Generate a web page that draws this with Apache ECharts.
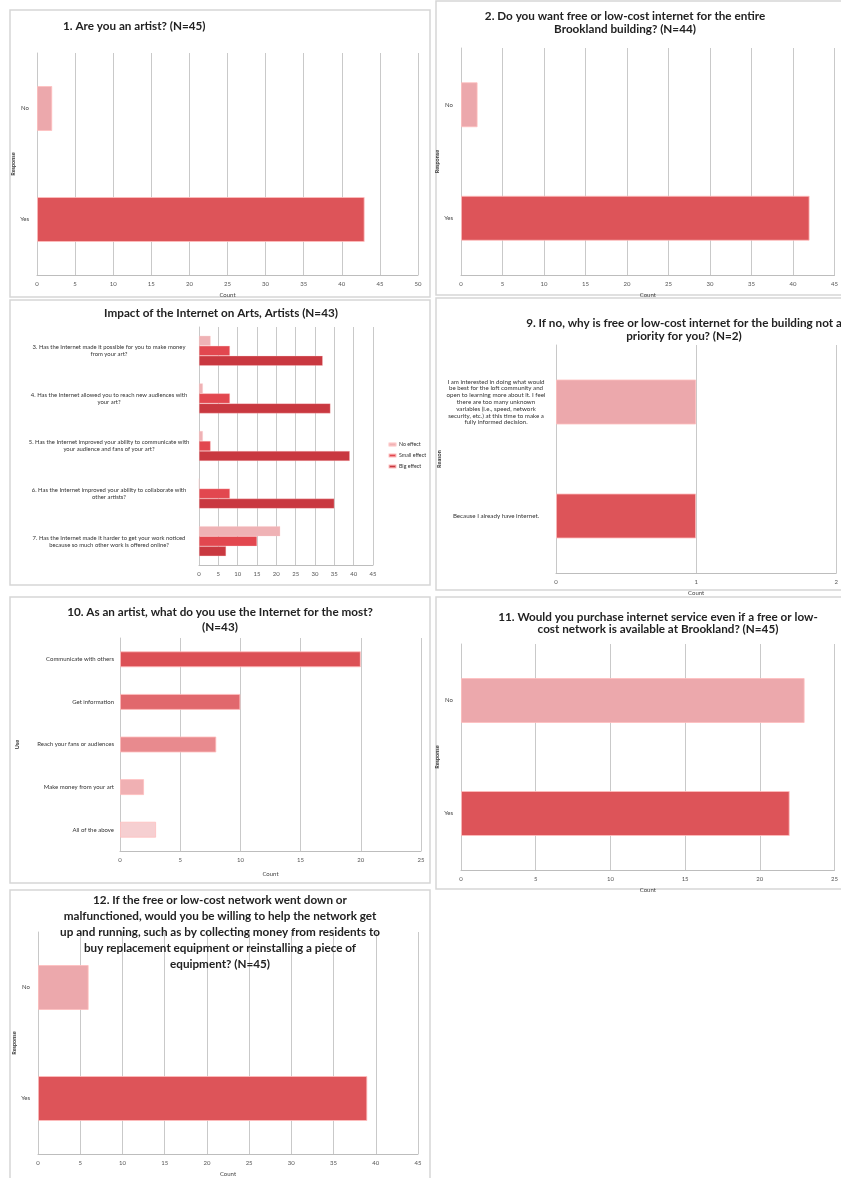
<!DOCTYPE html>
<html><head><meta charset="utf-8">
<script src="https://cdn.jsdelivr.net/npm/echarts@6/dist/echarts.min.js"></script>
<style>html,body{margin:0;padding:0;background:#fff}#c{width:841px;height:1178px}</style>
</head><body><div id="c"></div>
<script>
// ---- data ----
const q1Cats = ['No', 'Yes'];
const q1Vals = [2, 43];
const q2Cats = ['No', 'Yes'];
const q2Vals = [2, 42];
const q3Cats = [
  '3. Has the Internet made it possible for you to make money\nfrom your art?',
  '4. Has the Internet allowed you to reach new audiences with\nyour art?',
  '5. Has the Internet improved your ability to communicate with\nyour audience and fans of your art?',
  '6. Has the Internet improved your ability to collaborate with\nother artists?',
  '7. Has the Internet made it harder to get your work noticed\nbecause so much other work is offered online?'
];
const q3Series = ['No effect', 'Small effect', 'Big effect'];
const q3NoEffect = [3, 1, 1, 0, 21];
const q3Small = [8, 8, 3, 8, 15];
const q3Big = [32, 34, 39, 35, 7];
const q9Cats = [
  'I am interested in doing what would\nbe best for the loft community and\nopen to learning more about it. I feel\nthere are too many unknown\nvariables (i.e., speed, network\nsecurity, etc.) at this time to make a\nfully informed decision.',
  'Because I already have internet.'
];
const q9Vals = [1, 1];
const q10Cats = ['Communicate with others', 'Get information', 'Reach your fans or audiences', 'Make money from your art', 'All of the above'];
const q10Vals = [20, 10, 8, 2, 3];
const q11Cats = ['No', 'Yes'];
const q11Vals = [23, 22];
const q12Cats = ['No', 'Yes'];
const q12Vals = [6, 39];
const titles = [
  '1. Are you an artist? (N=45)',
  '2. Do you want free or low-cost internet for the entire\nBrookland building? (N=44)',
  'Impact of the Internet on Arts, Artists (N=43)',
  '9. If no, why is free or low-cost internet for the building not a\npriority for you? (N=2)',
  '10. As an artist, what do you use the Internet for the most?\n(N=43)',
  '11. Would you purchase internet service even if a free or low-\ncost network is available at Brookland? (N=45)',
  '12. If the free or low-cost network went down or\nmalfunctioned, would you be willing to help the network get\nup and running, such as by collecting money from residents to\nbuy replacement equipment or reinstalling a piece of\nequipment? (N=45)'
];

// ---- style ----
const FONT = 'Lato';
const DARK = '#dd5459', LIGHT = '#eca8ac';
const q3Colors = ['#efb2b5', '#e2474f', '#c93840'];
const q10Colors = ['#dc5055', '#e1686d', '#e88a8e', '#f0b0b3', '#f6cfd1'];

const grids = [], xAxes = [], yAxes = [], series = [];
function addPanel(g, x, y) {
  const i = grids.length;
  grids.push({left: g.l, top: g.t, width: g.r - g.l, height: g.b - g.t, containLabel: false});
  xAxes.push({
    gridIndex: i, type: 'value', min: 0, max: x.max, interval: x.int,
    axisLine: {show: true, lineStyle: {color: '#bdbdbd'}}, axisTick: {show: false},
    splitLine: {show: true, lineStyle: {color: '#c9c9c9', width: 1}},
    axisLabel: {fontSize: 6, color: '#555', fontFamily: FONT, margin: 6},
    name: x.name || '', nameLocation: 'middle', nameGap: x.gap || 17,
    nameTextStyle: {fontSize: 6, color: '#444', fontFamily: FONT}
  });
  yAxes.push({
    gridIndex: i, type: 'category', data: y.data, inverse: true,
    axisLine: {show: true, lineStyle: {color: '#c8c8c8'}}, axisTick: {show: false},
    axisLabel: Object.assign({fontSize: 6, color: '#444', fontFamily: FONT, margin: 8}, y.label || {}),
    name: y.name || '', nameLocation: 'middle', nameGap: y.gap || 20, nameRotate: 90,
    nameTextStyle: {fontSize: 5.5, color: '#333', fontFamily: FONT, fontWeight: 'bold'}
  });
  return i;
}
function twoColor(vals) {
  return vals.map((v, k) => ({value: v, itemStyle: {color: k === 0 ? LIGHT : DARK}}));
}
const barStyle = {borderColor: 'rgba(255,190,190,0.8)', borderWidth: 1};

// Panel 1
let i = addPanel({l: 37, r: 418, t: 53, b: 275}, {max: 50, int: 5, name: 'Count', gap: 17}, {data: q1Cats, name: 'Response', gap: 20});
series.push({type: 'bar', xAxisIndex: i, yAxisIndex: i, data: twoColor(q1Vals), barWidth: 45, itemStyle: barStyle});
// Panel 2
i = addPanel({l: 461, r: 839, t: 48, b: 275}, {max: 45, int: 5, name: 'Count', gap: 17}, {data: q2Cats, name: 'Response', gap: 19});
series.push({type: 'bar', xAxisIndex: i, yAxisIndex: i, data: twoColor(q2Vals), barWidth: 45, itemStyle: barStyle});
// Panel 3
i = addPanel({l: 199, r: 373, t: 327, b: 565}, {max: 45, int: 5}, {data: q3Cats, label: {fontSize: 5.9, align: 'center', margin: 90, lineHeight: 7, color: '#333'}});
[q3NoEffect, q3Small, q3Big].forEach((d, k) => {
  series.push({type: 'bar', name: q3Series[k], xAxisIndex: i, yAxisIndex: i, data: d, barWidth: 10, barGap: '0%',
    itemStyle: {color: q3Colors[k], borderColor: 'rgba(255,200,200,0.6)', borderWidth: 0.5}});
});
// Panel 4
i = addPanel({l: 556, r: 846, t: 345, b: 573}, {max: 2, int: 1, name: 'Count', gap: 17}, {data: q9Cats, name: 'Reason', gap: 106, label: {fontSize: 6.2, align: 'center', margin: 60, lineHeight: 6.8, color: '#333'}});
series.push({type: 'bar', xAxisIndex: i, yAxisIndex: i, data: twoColor(q9Vals), barWidth: 45, itemStyle: barStyle});
// Panel 5
i = addPanel({l: 120, r: 421, t: 638, b: 851}, {max: 25, int: 5, name: 'Count', gap: 20}, {data: q10Cats, name: 'Use', gap: 100, label: {fontSize: 6, margin: 6, color: '#333'}});
series.push({type: 'bar', xAxisIndex: i, yAxisIndex: i, data: q10Vals.map((v, k) => ({value: v, itemStyle: {color: q10Colors[k]}})), barWidth: 16, itemStyle: barStyle});
// Panel 6
i = addPanel({l: 461, r: 858, t: 644, b: 870}, {max: 25, int: 5, name: 'Count', gap: 17}, {data: q11Cats, name: 'Response', gap: 21});
series.push({type: 'bar', xAxisIndex: i, yAxisIndex: i, data: twoColor(q11Vals), barWidth: 45, itemStyle: barStyle});
// Panel 7
i = addPanel({l: 38, r: 418, t: 932, b: 1160}, {max: 45, int: 5, name: 'Count', gap: 17}, {data: q12Cats, name: 'Response', gap: 18});
series.push({type: 'bar', xAxisIndex: i, yAxisIndex: i, data: twoColor(q12Vals), barWidth: 45, itemStyle: barStyle});

const tStyle = {fontFamily: FONT, fontWeight: 'bold', fontSize: 11.7, color: '#222'};
const titlePos = [
  {x: 63, y: 20, a: 'left', lh: 13},
  {x: 625, y: 10, a: 'center', lh: 13},
  {x: 221, y: 307, a: 'center', lh: 13},
  {x: 684, y: 317, a: 'center', lh: 13},
  {x: 220, y: 605, a: 'center', lh: 15},
  {x: 658, y: 611, a: 'center', lh: 12},
  {x: 220, y: 892, a: 'center', lh: 16}
];
const titleOpts = titles.map((t, k) => ({
  text: t, left: titlePos[k].x, top: titlePos[k].y, textAlign: titlePos[k].a,
  padding: 0, textStyle: Object.assign({lineHeight: titlePos[k].lh}, tStyle)
}));

const panels = [[10, 10, 420, 287], [436, 1, 410, 294], [10, 300, 420, 285], [436, 298, 410, 292], [10, 597, 420, 286], [436, 597, 410, 292], [10, 890, 420, 295]];
const graphics = panels.map(p => ({type: 'rect', shape: {x: p[0], y: p[1], width: p[2], height: p[3]}, style: {fill: 'none', stroke: '#d6d6d6', lineWidth: 1.5}, z: -1, silent: true}));

const chart = echarts.init(document.getElementById('c'), null, {renderer: 'canvas'});
chart.setOption({
  animation: false,
  backgroundColor: '#fff',
  title: titleOpts,
  grid: grids, xAxis: xAxes, yAxis: yAxes, series: series,
  legend: {data: q3Series, orient: 'vertical', left: 383, top: 437, itemWidth: 7, itemHeight: 3, itemGap: 6,
    textStyle: {fontSize: 5.3, fontFamily: FONT, color: '#333', padding: [0, 0, 0, -2]}},
  graphic: graphics
});
</script></body></html>
